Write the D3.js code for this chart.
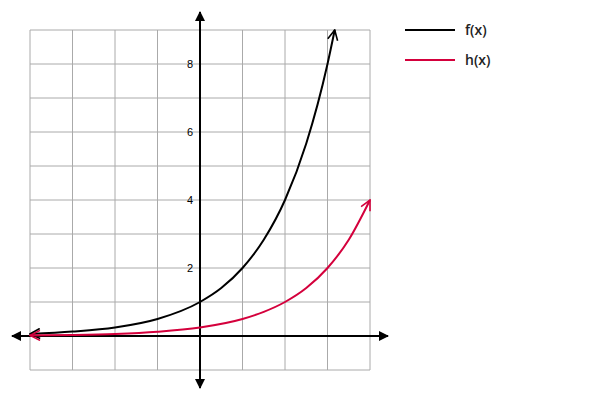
<!DOCTYPE html>
<html>
<head>
<meta charset="utf-8">
<title>f(x) and h(x)</title>
<script src="https://cdn.jsdelivr.net/npm/d3@7/dist/d3.min.js"></script>
<style>
  body { margin: 0; background: #fff; }
  text { font-family: "Liberation Sans", Arial, sans-serif; }
</style>
</head>
<body>
<svg id="chart" width="600" height="400"></svg>
<script>
// values
var fX = [-4, -3, -2, -1, 0, 0.5, 1, 1.5, 2, 2.5, 3, 3.17];
var fY = [0.06, 0.13, 0.25, 0.5, 1, 1.41, 2, 2.83, 4, 5.66, 8, 9];
var hX = [-4, -3, -2, -1, 0, 1, 1.5, 2, 2.5, 3, 3.5, 4];
var hY = [0.016, 0.03, 0.06, 0.125, 0.25, 0.5, 0.71, 1, 1.41, 2, 2.83, 4];
var gridX = [-4, -3, -2, -1, 0, 1, 2, 3, 4];
var gridY = [-1, 0, 1, 2, 3, 4, 5, 6, 7, 8, 9];
var tickY = [2, 4, 6, 8];
var legendNames = ["f(x)", "h(x)"];
var colors = ["#000000", "#d4003c"];

var svg = d3.select("#chart");

var x = d3.scaleLinear().domain([-4, 4]).range([30, 370]);
var y = d3.scaleLinear().domain([-1, 9]).range([370, 30]);

// markers
var defs = svg.append("defs");
defs.append("marker")
  .attr("id", "axisHead")
  .attr("viewBox", "0 0 10 10")
  .attr("refX", 9).attr("refY", 5)
  .attr("markerWidth", 5).attr("markerHeight", 5)
  .attr("orient", "auto-start-reverse")
  .append("path").attr("d", "M0,0 L10,5 L0,10 z").attr("fill", "#000");

colors.forEach(function(c, i) {
  defs.append("marker")
    .attr("id", "curveHead" + i)
    .attr("viewBox", "0 0 12 12")
    .attr("refX", 11).attr("refY", 6)
    .attr("markerWidth", 6).attr("markerHeight", 6)
    .attr("markerUnits", "strokeWidth")
    .attr("orient", "auto-start-reverse")
    .append("path").attr("d", "M1,1 L11,6 L1,11")
    .attr("fill", "none").attr("stroke", c).attr("stroke-width", 1.6);
});

// grid
var grid = svg.append("g").attr("stroke", "#aaaaaa").attr("stroke-width", 1);
grid.selectAll("line.v").data(gridX).enter().append("line")
  .attr("class", "v")
  .attr("x1", function(d) { return x(d); }).attr("x2", function(d) { return x(d); })
  .attr("y1", y(9)).attr("y2", y(-1));
grid.selectAll("line.h").data(gridY).enter().append("line")
  .attr("class", "h")
  .attr("y1", function(d) { return y(d); }).attr("y2", function(d) { return y(d); })
  .attr("x1", x(-4)).attr("x2", x(4));

// axes
svg.append("line")
  .attr("x1", 12).attr("x2", 388)
  .attr("y1", y(0)).attr("y2", y(0))
  .attr("stroke", "#000").attr("stroke-width", 2)
  .attr("marker-start", "url(#axisHead)").attr("marker-end", "url(#axisHead)");
svg.append("line")
  .attr("x1", x(0)).attr("x2", x(0))
  .attr("y1", 388).attr("y2", 12)
  .attr("stroke", "#000").attr("stroke-width", 2)
  .attr("marker-start", "url(#axisHead)").attr("marker-end", "url(#axisHead)");

svg.selectAll("text.tick").data(tickY).enter().append("text")
  .attr("class", "tick")
  .attr("x", x(0) - 7)
  .attr("y", function(d) { return y(d); })
  .attr("dy", "0.35em")
  .attr("text-anchor", "end")
  .attr("font-size", 11)
  .text(function(d) { return d; });

// curves
var line = d3.line()
  .x(function(d) { return x(d[0]); })
  .y(function(d) { return y(d[1]); })
  .curve(d3.curveMonotoneX);

var series = [d3.zip(fX, fY), d3.zip(hX, hY)];
series.forEach(function(s, i) {
  svg.append("path")
    .attr("d", line(s))
    .attr("fill", "none")
    .attr("stroke", colors[i])
    .attr("stroke-width", 2)
    .attr("marker-start", "url(#curveHead" + i + ")")
    .attr("marker-end", "url(#curveHead" + i + ")");
});

// legend
var legend = svg.selectAll("g.legend").data(legendNames).enter().append("g")
  .attr("class", "legend")
  .attr("transform", function(d, i) { return "translate(405," + (30 + i * 30) + ")"; });
legend.append("line")
  .attr("x1", 0).attr("x2", 50)
  .attr("stroke", function(d, i) { return colors[i]; })
  .attr("stroke-width", 2);
legend.append("text")
  .attr("x", 60).attr("dy", "0.35em")
  .attr("font-size", 14)
  .attr("font-weight", 600)
  .style("font-family", "'Open Sans', sans-serif")
  .attr("fill", "#222")
  .text(function(d) { return d; });
</script>
</body>
</html>
